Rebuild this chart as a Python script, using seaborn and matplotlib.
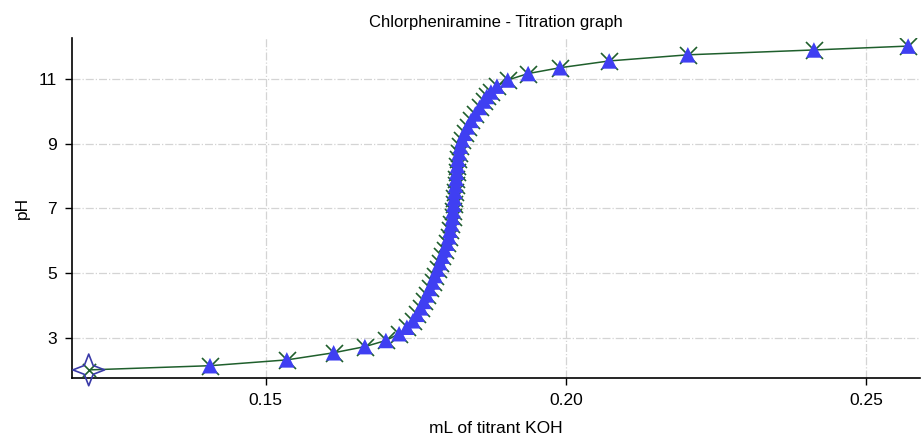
import matplotlib
matplotlib.use("Agg")
import matplotlib.pyplot as plt
from matplotlib.path import Path
import seaborn as sns
import pandas as pd

# Data
volume_ml = [0.1205, 0.1407, 0.1535, 0.1613, 0.1665, 0.1700, 0.1722,
             0.1735, 0.1745, 0.1752, 0.1758, 0.1763, 0.1768, 0.1773,
             0.1778, 0.1782, 0.1786, 0.1790, 0.1794, 0.1798, 0.1802,
             0.1805, 0.1807, 0.1809, 0.1811, 0.1812, 0.1813, 0.1814,
             0.1815, 0.1816, 0.1817, 0.1818, 0.1819, 0.1820, 0.1822,
             0.1824, 0.1827, 0.1831, 0.1836, 0.1842, 0.1849, 0.1856,
             0.1863, 0.1868, 0.1875, 0.1885, 0.1903, 0.1937, 0.1990,
             0.2072, 0.2203, 0.2413, 0.2570]
ph_values = [2.00, 2.13, 2.31, 2.53, 2.72, 2.91, 3.12,
             3.32, 3.52, 3.72, 3.92, 4.12, 4.32, 4.52,
             4.72, 4.92, 5.12, 5.32, 5.52, 5.72, 5.92,
             6.12, 6.32, 6.52, 6.72, 6.92, 7.12, 7.32,
             7.52, 7.72, 7.92, 8.12, 8.32, 8.52, 8.72,
             8.92, 9.12, 9.32, 9.52, 9.72, 9.92, 10.12,
             10.32, 10.46, 10.60, 10.78, 10.97, 11.17, 11.35,
             11.56, 11.75, 11.90, 12.02]
x_ticks = [0.15, 0.20, 0.25]
x_tick_labels = ["0.15", "0.20", "0.25"]
y_ticks = [3, 5, 7, 9, 11]

title = "Chlorpheniramine - Titration graph"
x_label = "mL of titrant KOH"
y_label = "pH"

sns.set_theme(style="ticks")
plt.rcParams["font.family"] = ["Liberation Sans", "DejaVu Sans"]
plt.rcParams["text.color"] = "black"
plt.rcParams["axes.labelcolor"] = "black"

df = pd.DataFrame({"v": volume_ml, "ph": ph_values})
start = df.iloc[:1]
rest = df.iloc[1:]

# four-pointed star marker shape
k = 0.28
star_path = Path([(0, 1), (k, k), (1, 0), (k, -k), (0, -1), (-k, -k),
                  (-1, 0), (-k, k), (0, 1)], closed=True)

fig = plt.figure(figsize=(9.22, 4.45), dpi=100)
ax = fig.add_axes([0.078, 0.1506, 0.920, 0.764])

line_green = "#1f5f2c"
blue = "#3f3ff2"

sns.lineplot(data=df, x="v", y="ph", sort=False, color=line_green,
             linewidth=1.1, ax=ax, zorder=2)
sns.scatterplot(data=rest, x="v", y="ph", marker="x", s=150, color=line_green,
                linewidth=1.2, ax=ax, zorder=3)
sns.scatterplot(data=rest, x="v", y="ph", marker="^", s=125, color=blue,
                edgecolor="none", linewidth=0, ax=ax, zorder=4)
sns.scatterplot(data=start, x="v", y="ph", marker="x", s=90, color=line_green,
                linewidth=1.2, ax=ax, zorder=3, clip_on=False)
sns.scatterplot(data=start, x="v", y="ph", marker=star_path, s=520,
                facecolor="none", edgecolor="#3a3aa8", linewidth=1.2,
                ax=ax, zorder=5, clip_on=False)

ax.set_xlim(0.1177, 0.259)
ax.set_ylim(1.75, 12.27)
ax.set_xticks(x_ticks)
ax.set_xticklabels(x_tick_labels)
ax.set_yticks(y_ticks)
ax.grid(True, color="#d4d4d4", linestyle="-.", linewidth=0.9)
ax.set_axisbelow(True)
sns.despine(ax=ax)
for s in ("left", "bottom"):
    ax.spines[s].set_color("black")
    ax.spines[s].set_linewidth(1.2)
ax.tick_params(axis="both", direction="out", length=5, width=1,
               labelsize=12.5, colors="black", pad=6)
ax.set_title(title, fontsize=12, pad=8, color="black")
ax.set_xlabel(x_label, fontsize=12.5, labelpad=9, color="black")
ax.set_ylabel(y_label, fontsize=12.5, labelpad=6, color="black")

fig.savefig("out.png", dpi=100)
